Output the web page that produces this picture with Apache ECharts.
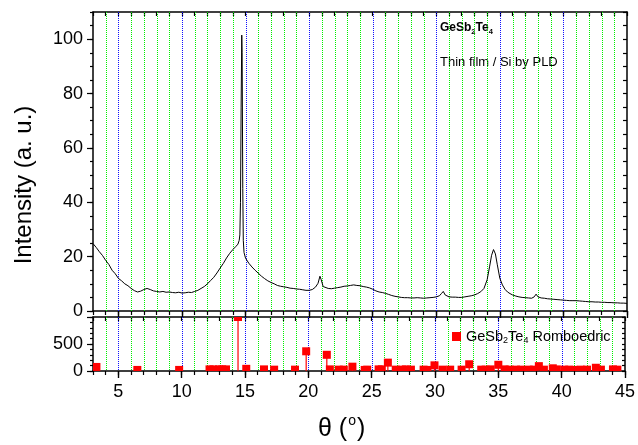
<!DOCTYPE html>
<html>
<head>
<meta charset="utf-8">
<script src="https://cdn.jsdelivr.net/npm/echarts@6/dist/echarts.min.js"></script>
<style>html,body{margin:0;padding:0;background:#fff;}#c{width:638px;height:445px;}</style>
</head>
<body>
<div id="c"></div>
<script>
// XRD pattern (top panel)
const theta = [3.0,3.25,3.5,3.75,4.0,4.25,4.5,4.75,5.0,5.25,5.5,5.75,6.0,6.25,6.5,6.75,7.0,7.25,7.5,7.75,8.0,8.25,8.5,8.75,9.0,9.25,9.5,9.75,10.0,10.25,10.5,10.75,11.0,11.25,11.5,11.75,12.0,12.25,12.5,12.75,13.0,13.25,13.5,13.75,14.0,14.25,14.4,14.5,14.55,14.6,14.65,14.7,14.73,14.78,14.82,14.88,15.0,15.25,15.5,15.75,16.0,16.25,16.5,16.75,17.0,17.25,17.5,17.75,18.0,18.25,18.5,18.75,19.0,19.25,19.5,19.75,20.0,20.25,20.5,20.7,20.85,20.95,21.1,21.25,21.5,21.75,22.0,22.25,22.5,22.75,23.0,23.25,23.5,23.75,24.0,24.25,24.5,24.75,25.0,25.25,25.5,25.75,26.0,26.25,26.5,26.75,27.0,27.25,27.5,27.75,28.0,28.25,28.5,28.75,29.0,29.25,29.5,29.75,30.0,30.25,30.4,30.55,30.7,30.85,31.0,31.25,31.5,31.75,32.0,32.25,32.5,32.75,33.0,33.25,33.5,33.75,34.0,34.2,34.35,34.5,34.65,34.8,35.0,35.2,35.4,35.6,35.8,36.0,36.25,36.5,36.75,37.0,37.25,37.5,37.7,37.85,38.0,38.25,38.5,38.75,39.0,39.25,39.5,39.75,40.0,40.25,40.5,40.75,41.0,41.25,41.5,41.75,42.0,42.25,42.5,42.75,43.0,43.25,43.5,43.75,44.0,44.25,44.5,44.75,45.0];
const intensity = [24.8,23.4,21.8,20.4,18.6,17.1,15.0,13.7,12.0,11.1,10.0,9.3,8.3,7.5,7.0,7.3,7.9,8.3,7.9,7.4,7.2,7.0,7.2,6.9,7.0,6.8,6.7,6.9,6.6,6.7,6.9,6.8,7.2,7.6,8.3,9.0,10.0,11.2,12.4,14.0,15.8,17.5,19.5,21.2,22.6,23.8,24.6,26.0,28.0,40.0,75.0,101.5,95.0,45.0,26.0,21.5,19.4,17.6,16.2,15.0,13.9,12.8,11.9,11.1,10.5,10.0,9.4,9.1,8.9,8.7,8.4,8.3,8.1,8.0,7.8,7.6,7.6,7.9,8.8,10.2,12.8,11.5,9.0,8.4,8.3,8.2,8.4,8.6,8.8,9.1,9.2,9.4,9.6,9.4,9.3,9.0,8.8,8.5,8.0,7.4,7.0,6.8,6.5,6.1,5.7,5.4,5.2,5.0,4.9,4.9,4.8,4.8,4.9,4.8,4.7,4.8,4.9,5.0,5.2,5.6,6.4,7.2,5.9,5.3,5.2,5.1,5.1,5.0,5.0,5.2,5.4,5.6,5.9,6.4,7.1,8.3,11.5,16.5,20.5,22.6,21.0,17.0,12.0,9.6,8.0,7.0,6.4,5.9,5.5,5.2,5.0,4.9,4.8,4.7,5.2,6.2,5.2,4.8,4.7,4.5,4.4,4.3,4.2,4.1,4.0,3.9,3.8,3.8,3.8,3.7,3.6,3.5,3.4,3.4,3.3,3.3,3.2,3.2,3.1,3.1,3.0,3.0,2.9,2.9,2.8];
// Reference pattern sticks (bottom panel)
const stickTheta = [3.27,6.5,9.8,12.2,12.5,12.95,13.2,13.5,14.45,15.1,16.5,17.3,18.95,19.83,21.46,21.7,22.4,22.8,23.48,24.45,24.65,25.55,25.8,26.28,26.9,27.4,27.7,28.1,29.1,29.4,29.96,30.6,31.2,32.1,32.7,33.65,34.0,34.4,35.0,35.5,35.9,36.4,36.8,37.4,37.8,38.2,38.6,39.3,39.6,40.2,40.6,41.0,41.5,42.0,42.7,43.1,44.05,44.4];
const stickIntensity = [75,20,20,30,30,30,30,30,1000,40,30,25,25,365,300,30,25,25,80,20,25,30,30,155,25,25,30,25,25,20,105,25,25,25,125,25,25,30,115,30,25,25,25,25,25,90,25,50,30,25,25,20,25,25,60,25,30,25];
// Tick labels and vertical guide positions
const xTickLabels = [5,10,15,20,25,30,35,40,45];
const yTopTickLabels = [0,20,40,60,80,100];
const yBotTickLabels = [0,500];
const yBotMajor = [0,500,1000];
const guideTheta = [4,5,6,7,8,9,10,11,12,13,14,15,16,17,18,19,20,21,22,23,24,25,26,27,28,29,30,31,32,33,34,35,36,37,38,39,40,41,42,43,44];

const chart = echarts.init(document.getElementById('c'));
const black = '#000';
const FONT = 'Liberation Sans, Arial, sans-serif';
const GREEN = '#00f000', BLUE = '#1010ff';

function xAx(grid, pos, o) {
  return Object.assign({
    type:'value', gridIndex:grid, position:pos, min:3, max:45, interval:1,
    axisLine:{show:true, onZero:false, lineStyle:{color:black, width:1.5}},
    axisTick:{show:true, inside:false, length:4, lineStyle:{color:black, width:1.2}},
    axisLabel:{show:false}, splitLine:{show:false}
  }, o);
}
function yAx(grid, pos, max, interval, o) {
  return Object.assign({
    type:'value', gridIndex:grid, position:pos, min:0, max:max, interval:interval,
    axisLine:{show:true, onZero:false, lineStyle:{color:black, width:1.5}},
    axisTick:{show:true, inside:false, length:3, lineStyle:{color:black, width:1.2}},
    axisLabel:{show:false}, splitLine:{show:false}
  }, o);
}
const majorX = {axisLine:{show:false}, axisTick:{show:true, customValues:xTickLabels, length:7, lineStyle:{color:black,width:1.2}}};
const majorXin = {axisLine:{show:false}, axisTick:{show:true, inside:true, customValues:xTickLabels, length:7, lineStyle:{color:black,width:1.2}}};

function guideSeries(xi, yi) {
  return {
    type:'custom', xAxisIndex:xi, yAxisIndex:yi, silent:true, clip:false, z:1,
    data: guideTheta.map(v => [v]),
    encode:{x:0},
    renderItem:function(params, api){
      const v = api.value(0);
      const cs = params.coordSys;
      const px = Math.round(api.coord([v, 0])[0]) + 0.5;
      return {type:'line', shape:{x1:px, y1:cs.y, x2:px, y2:cs.y + cs.height},
        style:{stroke: v % 5 === 0 ? BLUE : GREEN, lineWidth:1, lineDash:[1,1]}};
    }
  };
}

const option = {
  animation:false,
  backgroundColor:'#fff',
  grid:[
    {left:93, width:534, top:12, height:299},
    {left:93, width:534, top:317, height:54}
  ],
  xAxis:[
    xAx(0,'bottom',{}),
    xAx(0,'top',{axisTick:{show:true, inside:true, length:4, lineStyle:{color:black,width:1.2}}}),
    xAx(0,'bottom',majorX),
    xAx(0,'top',majorXin),
    xAx(1,'bottom',{axisLabel:{show:true, customValues:xTickLabels, color:black, fontSize:18, fontFamily:FONT, margin:12}}),
    xAx(1,'top',{axisTick:{show:true, inside:true, length:4, lineStyle:{color:black,width:1.2}}}),
    xAx(1,'bottom',majorX),
    xAx(1,'top',majorXin)
  ],
  yAxis:[
    yAx(0,'left',110,5,{axisLabel:{show:true, customValues:yTopTickLabels, color:black, fontSize:18, fontFamily:FONT, margin:10}}),
    yAx(0,'right',110,5,{axisTick:{show:true, inside:true, length:4, lineStyle:{color:black,width:1.2}}}),
    yAx(0,'left',110,5,{axisLine:{show:false}, axisTick:{show:true, customValues:yTopTickLabels, length:6, lineStyle:{color:black,width:1.2}}}),
    yAx(1,'left',1000,100,{axisLabel:{show:true, customValues:yBotTickLabels, color:black, fontSize:18, fontFamily:FONT, margin:10}}),
    yAx(1,'right',1000,100,{axisTick:{show:true, inside:true, length:3, lineStyle:{color:black,width:1.2}}}),
    yAx(1,'left',1000,100,{axisLine:{show:false}, axisTick:{show:true, customValues:yBotMajor, length:6, lineStyle:{color:black,width:1.2}}})
  ],
  legend:{
    show:true, left:447, top:324, itemWidth:9, itemHeight:9, itemGap:6,
    data:[{name:'GeSb2Te4 Romboedric', icon:'rect'}],
    formatter:function(){return '{a|GeSb}{b|2}{a|Te}{b|4}{a| Romboedric}';},
    textStyle:{color:'#000', fontFamily:FONT, rich:{
      a:{fontSize:14.5, fontFamily:FONT, color:'#000', lineHeight:18},
      b:{fontSize:9, fontFamily:FONT, color:'#000', lineHeight:18, verticalAlign:'bottom', padding:[6,0,0,0]}
    }}
  },
  series:[
    guideSeries(0,0),
    guideSeries(4,3),
    {
      type:'line', xAxisIndex:0, yAxisIndex:0, showSymbol:false, symbol:'none',
      lineStyle:{color:black, width:1}, itemStyle:{color:black},
      data: theta.map((t,i)=>[t,intensity[i]]), clip:true, z:5
    },
    {
      type:'custom', name:'GeSb2Te4 Romboedric', xAxisIndex:4, yAxisIndex:3, clip:true,
      itemStyle:{color:'#ff0000'},
      data: stickTheta.map((t,i)=>[t,stickIntensity[i]]),
      renderItem:function(params, api){
        const x = api.value(0), y = api.value(1);
        const p0 = api.coord([x,0]);
        const p1 = api.coord([x,y]);
        return {type:'group', children:[
          {type:'line', shape:{x1:p0[0],y1:p0[1],x2:p1[0],y2:p1[1]}, style:{stroke:'#ff0000', lineWidth:1.2}},
          {type:'rect', shape:{x:p1[0]-4,y:p1[1]-4,width:8,height:8}, style:{fill:'#ff0000'}}
        ]};
      },
      z:5
    }
  ],
  graphic:[
    {type:'text', left:440, top:22, style:{text:'{a|GeSb}{b|2}{a|Te}{b|4}', rich:{
      a:{fontSize:12, fontWeight:'bold', fontFamily:FONT, fill:'#000', lineHeight:15},
      b:{fontSize:7.5, fontWeight:'bold', fontFamily:FONT, fill:'#000', lineHeight:15, verticalAlign:'bottom', padding:[5,0,0,0]}
    }}},
    {type:'text', left:440, top:56, style:{text:'Thin film / Si by PLD', fontSize:13, fontFamily:FONT, fill:'#000'}},
    {type:'text', x:24, y:185, rotation:Math.PI/2, style:{text:'Intensity (a. u.)', fontSize:24, fontFamily:FONT, fill:'#000', align:'center', verticalAlign:'middle'}},
    {type:'text', left:318, top:412, style:{text:'{a|\u03b8 (}{s|o}{a|)}', rich:{
      a:{fontSize:25, fontFamily:FONT, fill:'#000', lineHeight:30, verticalAlign:'bottom'},
      s:{fontSize:14, fontFamily:FONT, fill:'#000', lineHeight:30, verticalAlign:'top', padding:[2,1,0,1]}
    }}}
  ]
};
chart.setOption(option);
</script>
</body>
</html>
